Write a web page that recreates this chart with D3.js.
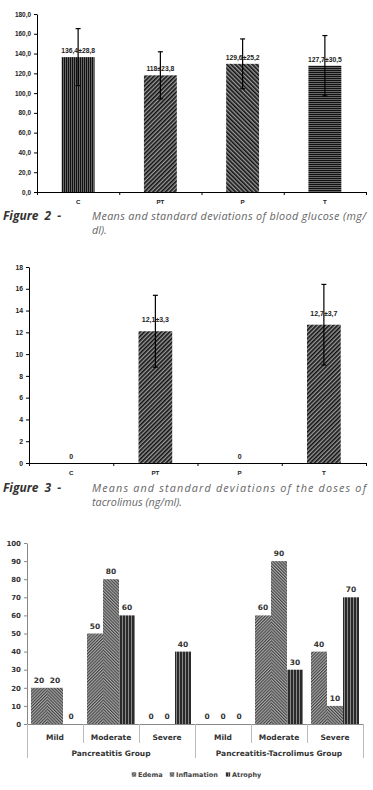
<!DOCTYPE html>
<html>
<head>
<meta charset="utf-8">
<script src="https://cdn.jsdelivr.net/npm/d3@7"></script>
<style>
  body { margin: 0; background: #fff; }
  svg { display: block; }
</style>
</head>
<body>
<svg id="fig" width="373" height="790"></svg>
<script>
// ---- data ----
const groups = ["C", "PT", "P", "T"];
const glucoseMean = [136.4, 118, 129.6, 127.7];
const glucoseSd = [28.8, 23.8, 25.2, 30.5];
const glucoseLabels = ["136,4±28,8", "118±23,8", "129,6±25,2", "127,7±30,5"];
const glucoseTicks = [0, 20, 40, 60, 80, 100, 120, 140, 160, 180];

const tacroMean = [0, 12.1, 0, 12.7];
const tacroSd = [0, 3.3, 0, 3.7];
const tacroLabels = ["0", "12,1±3,3", "0", "12,7±3,7"];
const tacroTicks = [0, 2, 4, 6, 8, 10, 12, 14, 16, 18];

const severity = ["Mild", "Moderate", "Severe"];
const groupNames = ["Pancreatitis Group", "Pancreatitis-Tacrolimus Group"];
const lesions = ["Edema", "Inflamation", "Atrophy"];
// [group][severity]
const edema = [[20, 50, 0], [0, 60, 40]];
const inflammation = [[20, 80, 0], [0, 90, 10]];
const atrophy = [[0, 60, 40], [0, 30, 70]];
const pctTicks = [0, 10, 20, 30, 40, 50, 60, 70, 80, 90, 100];

const svg = d3.select("#fig");
const defs = svg.append("defs");

function stripes(id, size, line, angle, bg, fg) {
  const p = defs.append("pattern")
    .attr("id", id)
    .attr("patternUnits", "userSpaceOnUse")
    .attr("width", size).attr("height", size)
    .attr("patternTransform", `rotate(${angle})`);
  p.append("rect").attr("width", size).attr("height", size).attr("fill", bg);
  p.append("rect").attr("width", line).attr("height", size).attr("fill", fg);
}
stripes("vert", 2, 1, 0, "#666", "#111");
stripes("horiz", 2, 1, 90, "#666", "#111");
stripes("diagA", 3, 1.6, 45, "#999", "#111");
stripes("diagB", 3, 1.6, -45, "#999", "#111");
stripes("edema", 2.2, 1.1, 45, "#aaa", "#444");
stripes("infl", 2.2, 1.1, -45, "#aaa", "#444");
stripes("atro", 3, 2, 0, "#888", "#2a2a2a");

const barFill1 = ["url(#vert)", "url(#diagA)", "url(#diagB)", "url(#horiz)"];
const comma = f => (v => f(v).replace(".", ","));

// ---- Figures 2 and 3: bar charts with error bars ----
function barChart(opts) {
  const g = svg.append("g");
  const x = d3.scaleBand().domain(groups).range([opts.left, opts.right]);
  const y = d3.scaleLinear().domain([0, opts.max]).range([opts.bottom, opts.top]);
  const bw = x.bandwidth() * 0.4;

  g.append("g")
    .attr("transform", `translate(${opts.left},0)`)
    .call(d3.axisLeft(y).tickValues(opts.ticks).tickSize(3).tickSizeOuter(0).tickFormat(opts.fmt))
    .call(a => a.selectAll("text").attr("font-size", opts.tickSize).attr("font-weight", "bold")
      .attr("font-family", "Liberation Sans, Arial").attr("fill", "#222"))
    .call(a => a.selectAll("line, path").attr("stroke", "#000"));

  // x axis line + boundary ticks
  const bounds = groups.map(d => x(d)).concat([opts.right]);
  g.append("line").attr("x1", opts.left).attr("x2", opts.right)
    .attr("y1", y(0) + 0.5).attr("y2", y(0) + 0.5).attr("stroke", "#000");
  g.selectAll(".bt").data(bounds).join("line")
    .attr("x1", d => d + 0.5).attr("x2", d => d + 0.5)
    .attr("y1", y(0)).attr("y2", y(0) + 3).attr("stroke", "#000");
  g.selectAll(".xl").data(groups).join("text")
    .attr("x", d => x(d) + x.bandwidth() / 2).attr("y", opts.bottom + 12)
    .attr("text-anchor", "middle").attr("font-size", 6.2).attr("font-weight", "bold")
    .attr("font-family", "Liberation Sans, Arial").attr("fill", "#222").text(d => d);

  g.selectAll(".bar").data(groups).join("rect")
    .attr("x", d => x(d) + (x.bandwidth() - bw) / 2)
    .attr("width", bw)
    .attr("y", (d, i) => y(opts.mean[i]))
    .attr("height", (d, i) => y(0) - y(opts.mean[i]))
    .attr("fill", (d, i) => opts.fills[i]);

  const eb = groups.map((d, i) => ({ d, i })).filter(o => opts.sd[o.i] > 0);
  const cx = o => x(o.d) + x.bandwidth() / 2;
  g.selectAll(".ev").data(eb).join("line")
    .attr("x1", cx).attr("x2", cx)
    .attr("y1", o => y(opts.mean[o.i] + opts.sd[o.i]))
    .attr("y2", o => y(opts.mean[o.i] - opts.sd[o.i]))
    .attr("stroke", "#000").attr("stroke-width", 1.2);
  [1, -1].forEach(s => {
    g.selectAll(".cap" + s).data(eb).join("line")
      .attr("x1", o => cx(o) - 2.5).attr("x2", o => cx(o) + 2.5)
      .attr("y1", o => y(opts.mean[o.i] + s * opts.sd[o.i]))
      .attr("y2", o => y(opts.mean[o.i] + s * opts.sd[o.i]))
      .attr("stroke", "#000").attr("stroke-width", 1.2);
  });

  g.selectAll(".vl").data(groups).join("text")
    .attr("x", d => x(d) + x.bandwidth() / 2)
    .attr("y", (d, i) => y(opts.mean[i]) - (opts.mean[i] > 0 ? opts.labelGap : 4))
    .attr("text-anchor", "middle").attr("font-size", opts.labelSize).attr("font-weight", "bold")
    .attr("font-family", "Liberation Sans, Arial").attr("fill", "#222")
    .text((d, i) => opts.labels[i]);
}

barChart({
  left: 37, right: 366, top: 14, bottom: 192, max: 180,
  ticks: glucoseTicks, fmt: comma(d3.format(".1f")), tickSize: 6.4,
  mean: glucoseMean, sd: glucoseSd, labels: glucoseLabels,
  fills: barFill1, labelGap: 4, labelSize: 6.8
});

barChart({
  left: 29, right: 366, top: 267, bottom: 463, max: 18,
  ticks: tacroTicks, fmt: d3.format("d"), tickSize: 6.8,
  mean: tacroMean, sd: tacroSd, labels: tacroLabels,
  fills: ["url(#diagA)", "url(#diagA)", "url(#diagA)", "url(#diagA)"],
  labelGap: 9, labelSize: 7
});

// ---- captions ----
function caption(y, title, lines) {
  const c = svg.append("g");
  c.append("text").attr("x", 3).attr("y", y)
    .attr("font-family", "Open Sans, sans-serif").attr("font-style", "italic")
    .attr("font-weight", "bold").attr("font-size", 12).attr("fill", "#333")
    .attr("word-spacing", 3).text(title);
  lines.forEach((t, i) => {
    const tx = c.append("text").attr("x", 92).attr("y", y + i * 13.5)
      .attr("font-family", "Open Sans, sans-serif").attr("font-style", "italic")
      .attr("font-size", 10.8).attr("fill", "#666").text(t);
    if (i === 0) tx.attr("textLength", 274).attr("lengthAdjust", "spacing");
  });
}
caption(220, "Figure 2 -", ["Means and standard deviations of blood glucose (mg/", "dl)."]);
caption(492, "Figure 3 -", ["Means and standard deviations of the doses of", "tacrolimus (ng/ml)."]);

// ---- Figure 4: histology ----
const cells = [];
groupNames.forEach((gname, gi) => severity.forEach((s, si) => cells.push({ gi, si, key: gi + "-" + s })));
const x3 = d3.scaleBand().domain(cells.map(c => c.key)).range([27, 363]);
const xs = d3.scaleBand().domain(lesions).range([0, x3.bandwidth()]).paddingOuter(0.25).paddingInner(0);
const y3 = d3.scaleLinear().domain([0, 100]).range([724, 543]);
const lesionData = [edema, inflammation, atrophy];
const lesionFill = ["url(#edema)", "url(#infl)", "url(#atro)"];
const g3 = svg.append("g");
const font3 = "DejaVu Sans";

g3.append("g").attr("transform", "translate(27,0)")
  .call(d3.axisLeft(y3).tickValues(pctTicks).tickSize(3).tickSizeOuter(0))
  .call(a => a.selectAll("text").attr("font-size", 7).attr("font-weight", "bold")
    .attr("font-family", font3).attr("fill", "#333"))
  .call(a => a.selectAll("line, path").attr("stroke", "#888"));

g3.append("line").attr("x1", 27).attr("x2", 363).attr("y1", y3(0) + 0.5).attr("y2", y3(0) + 0.5).attr("stroke", "#888");
const sep = cells.map(c => ({ x: x3(c.key), outer: c.si === 0 })).concat([{ x: 363, outer: true }]);
g3.selectAll(".sep").data(sep).join("line")
  .attr("x1", d => d.x + 0.5).attr("x2", d => d.x + 0.5)
  .attr("y1", y3(0)).attr("y2", d => d.outer ? 758 : 743)
  .attr("stroke", "#bbb");

const bars3 = [];
cells.forEach(c => lesions.forEach((l, li) => bars3.push({ c, l, li, v: lesionData[li][c.gi][c.si] })));
g3.selectAll(".b3").data(bars3).join("rect")
  .attr("x", d => x3(d.c.key) + xs(d.l))
  .attr("width", xs.bandwidth())
  .attr("y", d => y3(d.v))
  .attr("height", d => y3(0) - y3(d.v))
  .attr("fill", d => lesionFill[d.li]);
g3.selectAll(".v3").data(bars3).join("text")
  .attr("x", d => x3(d.c.key) + xs(d.l) + xs.bandwidth() / 2)
  .attr("y", d => y3(d.v) - 5)
  .attr("text-anchor", "middle").attr("font-size", 7.5).attr("font-weight", "bold")
  .attr("font-family", font3).attr("fill", "#333")
  .text(d => d.v);

g3.selectAll(".sl").data(cells).join("text")
  .attr("x", d => x3(d.key) + x3.bandwidth() / 2).attr("y", 740)
  .attr("text-anchor", "middle").attr("font-size", 7.5).attr("font-weight", "bold")
  .attr("font-family", font3).attr("fill", "#333")
  .text(d => severity[d.si]);
g3.selectAll(".gl").data(groupNames).join("text")
  .attr("x", (d, i) => (x3(i + "-Mild") + x3(i + "-Severe") + x3.bandwidth()) / 2).attr("y", 756)
  .attr("text-anchor", "middle").attr("font-size", 7.5).attr("font-weight", "bold")
  .attr("font-family", font3).attr("fill", "#333")
  .text(d => d);

// legend
const legX = [132, 170, 226];
const leg = g3.selectAll(".lg").data(lesions).join("g")
  .attr("transform", (d, i) => `translate(${legX[i]},774)`);
leg.append("rect").attr("width", 4).attr("height", 4).attr("y", -1.5)
  .attr("fill", (d, i) => lesionFill[i]).attr("stroke", "#666").attr("stroke-width", 0.4);
leg.append("text").attr("x", 6).attr("y", 3)
  .attr("font-size", 6.5).attr("font-weight", "bold").attr("font-family", font3)
  .attr("fill", "#444").text(d => d);
</script>
</body>
</html>
